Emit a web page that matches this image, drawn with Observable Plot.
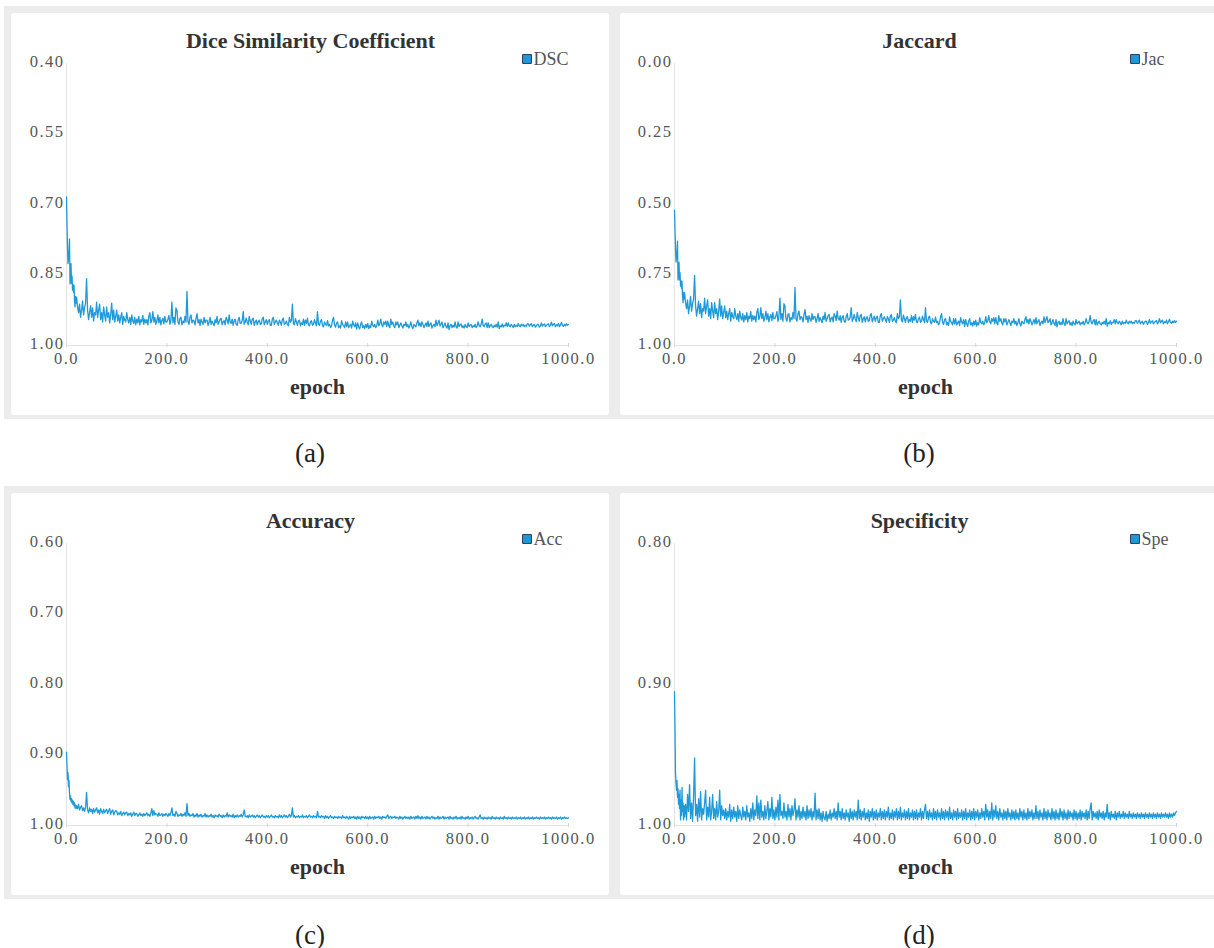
<!DOCTYPE html>
<html>
<head>
<meta charset="utf-8">
<script src="https://cdn.jsdelivr.net/npm/d3@7"></script>
<script src="https://cdn.jsdelivr.net/npm/@observablehq/plot@0.6"></script>
<style>
  body { margin: 0; background: #fff; }
  #page { position: relative; width: 1214px; height: 948px; overflow: hidden; background: #fff; font-family: 'Liberation Serif', serif; }
  .band { position: absolute; background: #ececec; }
  .panel { position: absolute; width: 598px; height: 402px; background: #fff; border-radius: 3px; overflow: visible; }
  .panel svg { position: absolute; left: 0; top: 0; font-family: 'Liberation Serif', serif !important; }
  .panel svg text { font-family: 'Liberation Serif', serif !important; }
  .cap { position: absolute; font-size: 27px; line-height: 1; color: #222; transform: translate(-50%, -50%); white-space: nowrap; }
</style>
</head>
<body>
<div id="page"></div>
<script>
// ---- data: epochs 0..19 one by one, then 20..1000 every 2 epochs ----
const xTicks = [0, 200, 400, 600, 800, 1000];

const dscTicks = [0.40, 0.55, 0.70, 0.85, 1.00];
const jacTicks = [0.00, 0.25, 0.50, 0.75, 1.00];
const accTicks = [0.60, 0.70, 0.80, 0.90, 1.00];
const speTicks = [0.80, 0.90, 1.00];

const dsc = [
  .684,.745,.790,.826,.815,.800,.773,.869,.840,.826,.868,.852,.882,.870,.887,.872,.905,.918,.896,.910,
  .897,.918,.930,.912,.940,.925,.905,.935,.920,.910,
  .858,.925,.945,.930,.915,.940,.920,.948,.930,.935,
  .908,.940,.925,.912,.945,.930,.950,.918,.935,.948,
  .918,.940,.930,.952,.935,.910,.945,.925,.950,.938,
  .925,.948,.935,.952,.940,.930,.955,.938,.946,.950,
  .930,.945,.952,.940,.955,.935,.948,.953,.940,.956,
  .944,.952,.938,.956,.945,.950,.936,.955,.944,.952,
  .945,.956,.938,.930,.952,.946,.928,.950,.940,.955,
  .948,.935,.952,.940,.956,.947,.942,.954,.938,.950,
  .950,.944,.936,.955,.946,.908,.952,.940,.955,.920,
  .925,.950,.955,.942,.940,.956,.948,.952,.938,.950,
  .885,.950,.955,.940,.935,.952,.946,.948,.956,.942,
  .932,.952,.945,.957,.944,.950,.955,.940,.952,.946,
  .946,.957,.950,.940,.955,.948,.953,.958,.945,.952,
  .938,.955,.950,.944,.942,.956,.950,.947,.956,.940,
  .945,.954,.935,.950,.953,.944,.957,.948,.944,.955,
  .957,.946,.940,.953,.952,.947,.928,.955,.950,.942,
  .950,.956,.938,.948,.955,.944,.942,.957,.950,.946,
  .956,.949,.946,.955,.954,.943,.940,.956,.950,.945,
  .955,.948,.945,.957,.957,.944,.940,.955,.950,.946,
  .952,.957,.946,.950,.957,.945,.942,.955,.953,.948,
  .955,.958,.940,.950,.947,.912,.953,.956,.943,.950,
  .957,.948,.946,.958,.952,.955,.944,.957,.946,.953,
  .942,.956,.958,.950,.947,.957,.955,.945,.952,.958,
  .928,.955,.957,.948,.945,.958,.960,.950,.955,.957,
  .947,.958,.955,.962,.958,.946,.940,.957,.961,.952,
  .950,.962,.958,.963,.947,.955,.958,.962,.950,.960,
  .950,.962,.958,.955,.963,.948,.956,.960,.952,.965,
  .952,.960,.965,.955,.950,.962,.958,.964,.955,.962,
  .953,.964,.958,.962,.948,.957,.960,.955,.962,.958,
  .946,.958,.954,.944,.956,.960,.950,.955,.948,.960,
  .948,.958,.962,.944,.955,.950,.958,.962,.950,.956,
  .950,.962,.957,.952,.958,.963,.955,.958,.950,.960,
  .955,.963,.958,.950,.960,.964,.955,.958,.960,.952,
  .946,.958,.952,.960,.950,.955,.962,.957,.952,.960,
  .948,.960,.955,.952,.963,.958,.955,.960,.946,.958,
  .952,.946,.958,.955,.950,.962,.958,.952,.960,.963,
  .952,.966,.958,.955,.962,.957,.961,.950,.960,.963,
  .950,.960,.956,.954,.962,.958,.963,.955,.960,.962,
  .952,.960,.957,.955,.962,.958,.960,.955,.962,.958,
  .950,.958,.960,.955,.944,.957,.960,.954,.952,.962,
  .952,.962,.958,.955,.960,.962,.957,.960,.955,.961,
  .950,.964,.958,.960,.954,.961,.957,.958,.952,.960,
  .952,.958,.960,.955,.958,.962,.955,.960,.957,.959,
  .953,.958,.960,.955,.958,.955,.960,.957,.959,.954,
  .954,.959,.956,.953,.960,.957,.955,.961,.958,.955,
  .955,.961,.958,.952,.959,.956,.954,.960,.957,.955,
  .954,.960,.957,.950,.958,.955,.953,.960,.956,.958,
  .953,.960,.956,.951,.957,.959,.955,.958,.954,.957,
  .955
];

const jac = [
  .520,.594,.653,.704,.688,.667,.630,.768,.724,.704,.767,.742,.789,.770,.797,.773,.826,.848,.812,.835,
  .813,.848,.869,.838,.887,.860,.826,.878,.852,.835,
  .751,.860,.896,.869,.843,.887,.852,.901,.869,.878,
  .832,.887,.860,.838,.896,.869,.905,.848,.878,.901,
  .848,.887,.869,.908,.878,.835,.896,.860,.905,.883,
  .860,.901,.878,.908,.887,.869,.914,.883,.898,.905,
  .869,.896,.908,.887,.914,.878,.901,.910,.887,.916,
  .894,.908,.883,.916,.896,.905,.880,.914,.894,.908,
  .896,.916,.883,.869,.908,.898,.866,.905,.887,.914,
  .901,.878,.908,.887,.916,.899,.890,.912,.883,.905,
  .905,.894,.880,.914,.898,.832,.908,.887,.914,.852,
  .860,.905,.914,.890,.887,.916,.901,.908,.883,.905,
  .794,.905,.914,.887,.878,.908,.898,.901,.916,.890,
  .873,.908,.896,.918,.894,.905,.914,.887,.908,.898,
  .898,.918,.905,.887,.914,.901,.910,.919,.896,.908,
  .883,.914,.905,.894,.890,.916,.905,.899,.916,.887,
  .896,.912,.878,.905,.910,.894,.918,.901,.894,.914,
  .918,.898,.887,.910,.908,.899,.866,.914,.905,.890,
  .905,.916,.883,.901,.914,.894,.890,.918,.905,.898,
  .916,.903,.898,.914,.912,.892,.887,.916,.905,.896,
  .914,.901,.896,.918,.918,.894,.887,.914,.905,.898,
  .908,.918,.898,.905,.918,.896,.890,.914,.910,.901,
  .914,.919,.887,.905,.899,.838,.910,.916,.892,.905,
  .918,.901,.898,.919,.908,.914,.894,.918,.898,.910,
  .890,.916,.919,.905,.899,.918,.914,.896,.908,.919,
  .866,.914,.918,.901,.896,.919,.923,.905,.914,.918,
  .899,.919,.914,.927,.919,.898,.887,.918,.925,.908,
  .905,.927,.919,.929,.899,.914,.919,.927,.905,.923,
  .905,.927,.919,.914,.929,.901,.916,.923,.908,.932,
  .908,.923,.932,.914,.905,.927,.919,.931,.914,.927,
  .910,.931,.919,.927,.901,.918,.923,.914,.927,.919,
  .898,.919,.912,.894,.916,.923,.905,.914,.901,.923,
  .901,.919,.927,.894,.914,.905,.919,.927,.905,.916,
  .905,.927,.918,.908,.919,.929,.914,.919,.905,.923,
  .914,.929,.919,.905,.923,.931,.914,.919,.923,.908,
  .898,.919,.908,.923,.905,.914,.927,.918,.908,.923,
  .901,.923,.914,.908,.929,.919,.914,.923,.898,.919,
  .908,.898,.919,.914,.905,.927,.919,.908,.923,.929,
  .908,.934,.919,.914,.927,.918,.925,.905,.923,.929,
  .905,.923,.916,.912,.927,.919,.929,.914,.923,.927,
  .908,.923,.918,.914,.927,.919,.923,.914,.927,.919,
  .905,.919,.923,.914,.894,.918,.923,.912,.908,.927,
  .908,.927,.919,.914,.923,.927,.918,.923,.914,.925,
  .905,.931,.919,.923,.912,.925,.918,.919,.908,.923,
  .908,.919,.923,.914,.919,.927,.914,.923,.918,.921,
  .910,.919,.923,.914,.919,.914,.923,.918,.921,.912,
  .912,.921,.916,.910,.923,.918,.914,.925,.919,.914,
  .914,.925,.919,.908,.921,.916,.912,.923,.918,.914,
  .912,.923,.918,.905,.919,.914,.910,.923,.916,.919,
  .910,.923,.916,.907,.918,.921,.914,.919,.912,.918,
  .914
];

const acc = [
  .896,.915,.935,.925,.945,.936,.955,.963,.958,.966,.962,.968,.964,.970,.966,.972,.968,.975,.971,.976,
  .972,.976,.970,.978,.974,.972,.979,.975,.980,.974,
  .953,.978,.982,.975,.980,.977,.983,.976,.981,.978,
  .975,.982,.978,.984,.976,.980,.983,.977,.982,.979,
  .977,.983,.979,.976,.984,.980,.978,.985,.981,.979,
  .980,.985,.982,.984,.980,.986,.983,.981,.985,.982,
  .981,.986,.983,.985,.982,.987,.984,.981,.986,.983,
  .983,.987,.985,.982,.986,.984,.987,.983,.986,.984,
  .982,.986,.984,.987,.983,.976,.986,.979,.985,.983,
  .984,.987,.982,.986,.985,.983,.987,.984,.986,.983,
  .985,.987,.983,.986,.982,.975,.986,.984,.987,.980,
  .983,.987,.985,.986,.983,.987,.984,.986,.982,.987,
  .969,.986,.983,.987,.985,.986,.983,.988,.985,.987,
  .983,.988,.985,.987,.984,.988,.986,.987,.983,.988,
  .985,.988,.986,.987,.984,.988,.986,.989,.985,.987,
  .986,.988,.984,.987,.986,.989,.985,.988,.986,.987,
  .982,.988,.985,.987,.986,.988,.984,.989,.986,.988,
  .985,.988,.986,.987,.984,.988,.985,.978,.987,.988,
  .986,.989,.985,.988,.987,.985,.988,.986,.989,.987,
  .985,.988,.986,.989,.987,.985,.988,.987,.989,.986,
  .988,.986,.989,.987,.985,.988,.987,.989,.986,.988,
  .987,.989,.985,.988,.986,.989,.987,.985,.988,.986,
  .989,.987,.984,.988,.986,.975,.988,.986,.989,.987,
  .988,.986,.989,.987,.988,.985,.989,.987,.988,.986,
  .989,.987,.985,.988,.987,.989,.986,.988,.987,.989,
  .980,.988,.987,.989,.986,.988,.987,.990,.986,.989,
  .987,.990,.988,.986,.989,.988,.990,.987,.989,.988,
  .990,.987,.989,.988,.990,.986,.989,.988,.990,.987,
  .989,.991,.987,.990,.988,.989,.987,.990,.988,.991,
  .987,.990,.988,.991,.987,.989,.988,.990,.987,.990,
  .988,.991,.987,.990,.989,.988,.991,.987,.990,.988,
  .989,.987,.990,.988,.991,.987,.989,.988,.990,.987,
  .985,.990,.988,.987,.990,.988,.989,.987,.990,.988,
  .989,.991,.987,.990,.988,.991,.989,.987,.990,.988,
  .990,.988,.991,.987,.990,.989,.988,.991,.987,.990,
  .986,.990,.988,.991,.987,.990,.989,.988,.991,.987,
  .990,.988,.991,.989,.987,.990,.988,.991,.989,.990,
  .987,.991,.988,.990,.989,.987,.991,.988,.990,.989,
  .988,.991,.987,.990,.989,.991,.988,.990,.987,.991,
  .989,.990,.988,.991,.987,.990,.989,.991,.988,.990,
  .987,.991,.989,.990,.988,.991,.989,.987,.990,.989,
  .991,.988,.985,.990,.989,.991,.988,.990,.989,.991,
  .988,.990,.989,.991,.987,.990,.989,.991,.988,.990,
  .989,.991,.988,.990,.989,.991,.987,.990,.989,.991,
  .988,.990,.989,.991,.988,.990,.989,.990,.988,.991,
  .989,.990,.988,.991,.989,.990,.988,.991,.989,.990,
  .988,.991,.989,.990,.988,.991,.989,.990,.988,.990,
  .989,.991,.988,.990,.989,.990,.988,.991,.989,.990,
  .988,.990,.989,.991,.988,.990,.989,.990,.988,.991,
  .989,.990,.988,.991,.989,.990,.988,.990,.989,.990,
  .989
];

const spe = [
  .905,.933,.963,.970,.975,.968,.980,.974,.985,.978,.988,.975,.996,.982,.993,.973,.990,.984,.996,.986,
  .994,.985,.996,.978,.990,.971,.995,.984,.997,.980,
  .952,.993,.985,.997,.981,.994,.976,.996,.988,.992,
  .984,.975,.996,.987,.994,.980,.996,.990,.978,.995,
  .988,.996,.983,.994,.990,.975,.996,.986,.993,.989,
  .995,.988,.996,.990,.994,.985,.997,.989,.995,.987,
  .994,.990,.997,.986,.995,.989,.993,.996,.987,.994,
  .990,.996,.986,.994,.991,.997,.988,.995,.984,.996,
  .989,.993,.979,.995,.984,.996,.982,.994,.990,.996,
  .986,.995,.990,.983,.996,.988,.994,.980,.995,.989,
  .996,.987,.994,.982,.996,.978,.993,.990,.995,.984,
  .994,.990,.996,.985,.994,.988,.996,.986,.993,.989,
  .981,.996,.989,.994,.986,.996,.990,.995,.987,.994,
  .990,.996,.986,.995,.989,.994,.988,.996,.990,.994,
  .977,.996,.989,.995,.988,.996,.991,.997,.990,.995,
  .996,.990,.997,.992,.995,.989,.996,.991,.994,.988,
  .995,.990,.996,.984,.994,.990,.996,.988,.995,.991,
  .996,.989,.994,.991,.997,.988,.995,.990,.996,.989,
  .994,.990,.996,.982,.995,.989,.996,.990,.994,.988,
  .996,.991,.995,.989,.997,.990,.994,.988,.996,.990,
  .995,.989,.996,.991,.994,.988,.996,.990,.995,.989,
  .996,.990,.994,.987,.996,.991,.995,.989,.996,.990,
  .994,.988,.996,.990,.995,.987,.996,.991,.994,.989,
  .996,.990,.995,.988,.996,.991,.994,.989,.996,.990,
  .995,.989,.996,.991,.994,.988,.996,.990,.995,.989,
  .985,.995,.990,.996,.989,.994,.991,.996,.988,.995,
  .990,.996,.989,.994,.991,.996,.988,.995,.990,.996,
  .989,.994,.990,.996,.987,.995,.991,.996,.989,.994,
  .990,.996,.988,.995,.991,.994,.989,.996,.990,.995,
  .988,.996,.991,.994,.989,.996,.990,.995,.988,.996,
  .990,.994,.989,.996,.991,.995,.988,.994,.990,.996,
  .985,.994,.989,.996,.990,.995,.984,.996,.989,.994,
  .986,.995,.990,.996,.988,.994,.991,.996,.989,.995,
  .990,.996,.988,.994,.991,.996,.989,.995,.990,.996,
  .989,.995,.991,.996,.988,.994,.990,.996,.989,.995,
  .991,.996,.988,.995,.990,.994,.989,.996,.991,.995,
  .986,.995,.990,.996,.989,.994,.991,.996,.988,.995,
  .990,.996,.989,.994,.991,.996,.988,.995,.990,.996,
  .989,.995,.991,.996,.988,.994,.990,.996,.989,.995,
  .991,.996,.989,.995,.990,.994,.991,.996,.989,.995,
  .990,.996,.991,.995,.989,.996,.990,.994,.991,.995,
  .989,.996,.990,.995,.988,.984,.996,.990,.994,.991,
  .995,.990,.996,.989,.994,.991,.995,.990,.996,.991,
  .994,.985,.995,.991,.996,.990,.994,.992,.995,.990,
  .996,.991,.994,.990,.995,.992,.994,.990,.995,.991,
  .994,.992,.995,.990,.994,.992,.995,.991,.994,.992,
  .995,.991,.994,.992,.995,.991,.994,.992,.995,.991,
  .994,.992,.995,.991,.994,.992,.995,.991,.994,.992,
  .995,.991,.994,.992,.995,.991,.994,.992,.994,.991,
  .994,.992,.995,.991,.994,.992,.994,.991,.993,.991,
  .990
];

const titles = ["Dice Similarity Coefficient", "Jaccard", "Accuracy", "Specificity"];
const legends = ["DSC", "Jac", "Acc", "Spe"];
const captions = ["(a)", "(b)", "(c)", "(d)"];

// ---- layout ----
const lineColor = "#1e9ad8";
const serif = "'Liberation Serif', serif";
const page = document.getElementById("page");

function addDiv(cls, css, text) {
  const d = document.createElement("div");
  d.className = cls;
  Object.assign(d.style, css);
  if (text) d.textContent = text;
  page.appendChild(d);
  return d;
}

addDiv("band", {left: "4px", top: "6px", width: "1214px", height: "413px"});
addDiv("band", {left: "4px", top: "486px", width: "1214px", height: "413px"});

const specs = [
  {left: 11,  top: 13,  ml: 55, values: dsc, domain: [0.4, 1.0], ticks: dscTicks, cx: 310, cy: 453},
  {left: 620, top: 13,  ml: 54, values: jac, domain: [0.0, 1.0], ticks: jacTicks, cx: 919, cy: 453},
  {left: 11,  top: 493, ml: 55, values: acc, domain: [0.6, 1.0], ticks: accTicks, cx: 310, cy: 935},
  {left: 620, top: 493, ml: 54, values: spe, domain: [0.8, 1.0], ticks: speTicks, cx: 919, cy: 935}
];

specs.forEach((s, k) => {
  const W = 598, H = 402, frameW = 502;
  const data = s.values.map((v, i) => ({epoch: i < 20 ? i : 20 + (i - 20) * 2, value: v}));
  const titleDx = W / 2 - (s.ml + frameW / 2);
  const chart = Plot.plot({
    width: W,
    height: H,
    marginLeft: s.ml,
    marginRight: W - s.ml - frameW,
    marginTop: 50,
    marginBottom: 70,
    style: {background: "transparent", fontFamily: serif, overflow: "visible"},
    x: {domain: [0, 1000]},
    y: {domain: s.domain, reverse: true},
    marks: [
      Plot.ruleX([0], {stroke: "#e4e4e4", strokeWidth: 1}),
      Plot.ruleY([s.domain[1]], {stroke: "#e2e2e2", strokeWidth: 1}),
      Plot.axisX({ticks: xTicks, tickSize: 4, dy: -2, tickFormat: () => "", stroke: "#d6d6d6", label: null}),
      Plot.axisX({ticks: xTicks, tickSize: 0, tickPadding: 7, tickFormat: d => d.toFixed(1), fontSize: 16.5, fontFamily: serif, fill: "#555", label: null}),
      Plot.axisY({ticks: s.ticks, tickSize: 0, tickPadding: 2, dy: -2, tickFormat: d => d.toFixed(2), fontSize: 16.5, fontFamily: serif, fill: "#555", label: null}),
      Plot.line(data, {x: "epoch", y: "value", stroke: lineColor, strokeWidth: 1.3}),
      Plot.text([titles[k]], {frameAnchor: "top", lineAnchor: "middle", dx: titleDx, dy: -23, fontSize: 22, fontWeight: "bold", fontFamily: serif, fill: "#333"}),
      Plot.text(["epoch"], {frameAnchor: "bottom", lineAnchor: "middle", dy: 41, fontSize: 22, fontWeight: "bold", fontFamily: serif, fill: "#333"}),
      Plot.dot([legends[k]], {frameAnchor: "top-right", dx: -41.5, dy: -4.5, symbol: "square", r: 5, fill: lineColor, stroke: "#2a3a4a", strokeWidth: 1}),
      Plot.text([legends[k]], {frameAnchor: "top-right", lineAnchor: "middle", dx: -35, dy: -4, textAnchor: "start", fontSize: 18, fontFamily: serif, fill: "#555"})
    ]
  });
  // numeric tick labels: serif with the wide spacing of the original
  chart.querySelectorAll("text").forEach(t => {
    if (/^\d+\.\d+$/.test(t.textContent.trim())) {
      t.setAttribute("font-family", serif);
      t.setAttribute("letter-spacing", "1.5");
      t.style.letterSpacing = "1.5px";
    }
  });
  const p = addDiv("panel", {left: s.left + "px", top: s.top + "px"});
  p.appendChild(chart);
  addDiv("cap", {left: s.cx + "px", top: s.cy + "px"}, captions[k]);
});
</script>
</body>
</html>
